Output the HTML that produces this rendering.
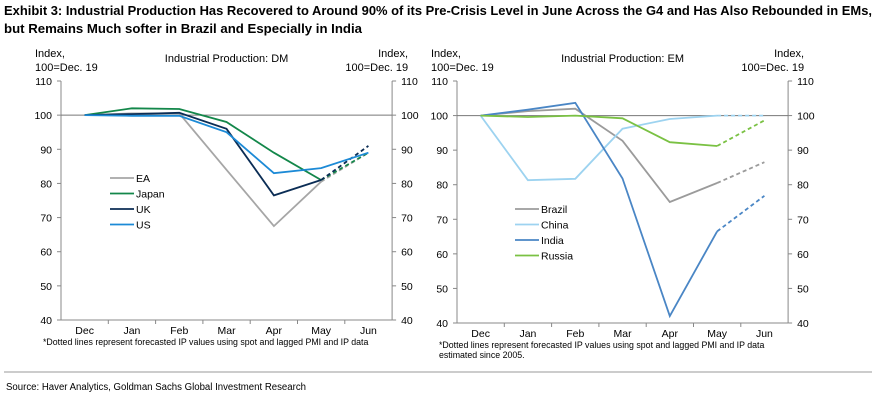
<!DOCTYPE html>
<html><head><meta charset="utf-8"><style>
body{margin:0;background:#fff;width:890px;height:404px;overflow:hidden;font-family:"Liberation Sans",Arial,sans-serif}
svg{display:block}
text{font-family:"Liberation Sans",Arial,sans-serif;fill:#000}
</style></head><body>
<svg id="svg" width="890" height="404">
<text x="4" y="15" font-size="13" font-weight="bold" textLength="868" lengthAdjust="spacingAndGlyphs">Exhibit 3: Industrial Production Has Recovered to Around 90% of its Pre-Crisis Level in June Across the G4 and Has Also Rebounded in EMs,</text>
<text x="4" y="33" font-size="13" font-weight="bold" textLength="358" lengthAdjust="spacingAndGlyphs">but Remains Much softer in Brazil and Especially in India</text>
<line x1="4" y1="372" x2="872" y2="372" stroke="#999" stroke-width="1"/>
<text x="6" y="390" font-size="10" textLength="300" lengthAdjust="spacingAndGlyphs">Source: Haver Analytics, Goldman Sachs Global Investment Research</text>
<g id="charts"></g>
</svg>
<script>
const categories=["Dec","Jan","Feb","Mar","Apr","May","Jun"];
const yTicks=[40,50,60,70,80,90,100,110];
const dmNames=["EA","Japan","UK","US"];
const dmEA=[100,100.5,100.5,84,67.5,80.5,89];
const dmJapan=[100,102,101.8,98,89,81,89];
const dmUK=[100,100.3,100.7,96,76.5,81,91];
const dmUS=[100,99.8,99.8,95,83,84.5,89];
const emNames=["Brazil","China","India","Russia"];
const emBrazil=[100,101.3,102,92.7,75,80.5,86.5];
const emChina=[100,81.3,81.7,96.2,99,100,100];
const emIndia=[100,101.7,103.7,81.8,42,66.5,76.8];
const emRussia=[100,99.6,100,99.2,92.3,91.2,98.6];
const dmColors=["#a6a6a6","#13874a","#0b2d55","#1c8ad6"];
const emColors=["#9b9b9b","#9dd3f0","#4a86c5","#7ac143"];
const NS="http://www.w3.org/2000/svg";
const root=document.getElementById('charts');
function mk(tag,attrs,parent,txt){const e=document.createElementNS(NS,tag);for(const k in attrs)e.setAttribute(k,attrs[k]);if(txt!==undefined)e.textContent=txt;(parent||root).appendChild(e);return e;}
function chart(cfg){
  const g=mk('g',{});
  
  
  const L=cfg.left,R=cfg.left+7*47.3,T=81,B=cfg.bottom;
  const y=v=>T+(110-v)/70*(B-T);
  const x=i=>L+23.65+i*47.3;
  const t=mk('text',{x:(L+R)/2,y:62,'font-size':11,'text-anchor':'middle'},g,cfg.title);
  
  
  [[L-26,'start'],[R+16,'end']].forEach((p,k)=>{
    const a=mk('text',{x:p[0],y:57,'font-size':11,'text-anchor':p[1]},g,'Index,');
    
    
    const b=mk('text',{x:p[0],y:71,'font-size':11,'text-anchor':p[1]},g,'100=Dec. 19');
    
    
  });
  mk('line',{x1:L,y1:T,x2:L,y2:B,stroke:'#888'},g);
  mk('line',{x1:R,y1:T,x2:R,y2:B,stroke:'#888'},g);
  mk('line',{x1:L,y1:B,x2:R,y2:B,stroke:'#888'},g);
  yTicks.forEach(v=>{
    mk('line',{x1:L-4,y1:y(v),x2:L,y2:y(v),stroke:'#888'},g);
    mk('line',{x1:R,y1:y(v),x2:R+4,y2:y(v),stroke:'#888'},g);
    const a=mk('text',{x:L-9,y:y(v)+4,'font-size':10.5,'text-anchor':'end'},g,v);
    
    
    const b=mk('text',{x:R+9,y:y(v)+4,'font-size':10.5},g,v);
    
    
  });
  mk('line',{x1:L,y1:y(100),x2:R,y2:y(100),stroke:'#777'},g);
  categories.forEach((c,i)=>{
    if(i>0)mk('line',{x1:L+i*47.3,y1:B,x2:L+i*47.3,y2:B+4,stroke:'#888'},g);
    const a=mk('text',{x:x(i),y:B+14,'font-size':10.5,'text-anchor':'middle'},g,c);
    
    
  });
  cfg.series.forEach((s,k)=>{
    const solidN=cfg.solidCount[k];
    const pts=s.map((v,i)=>x(i).toFixed(1)+','+y(v).toFixed(1));
    const p=mk('polyline',{points:pts.slice(0,solidN).join(' '),fill:'none',stroke:cfg.colors[k],'stroke-width':1.8},g);
    
    
    if(solidN<s.length){
      const d=mk('polyline',{points:pts.slice(solidN-1).join(' '),fill:'none',stroke:cfg.colors[k],'stroke-width':1.8,'stroke-dasharray':'4,3'},g);
      
      
    }
    const ly=cfg.legY+k*15.5;
    mk('line',{x1:cfg.legX,y1:ly,x2:cfg.legX+24,y2:ly,stroke:cfg.colors[k],'stroke-width':1.8},g);
    const lt=mk('text',{x:cfg.legX+26,y:ly+4,'font-size':10.5},g,cfg.names[k]);
    
    
  });
  cfg.notes.forEach((n,i)=>{
    const a=mk('text',{x:L-18,y:B+25+i*10,'font-size':8.8},g,n);
    
    
  });
}
chart({id:'dm',title:'Industrial Production: DM',left:61,bottom:320,series:[dmEA,dmJapan,dmUK,dmUS],names:dmNames,colors:dmColors,solidCount:[6,6,6,7],legX:110,legY:178,notes:['*Dotted lines represent forecasted IP values using spot and lagged PMI and IP data']});
chart({id:'em',title:'Industrial Production: EM',left:457,bottom:323,series:[emBrazil,emChina,emIndia,emRussia],names:emNames,colors:emColors,solidCount:[6,6,6,6],legX:515,legY:209,notes:['*Dotted lines represent forecasted IP values using spot and lagged PMI and IP data','estimated since 2005.']});
</script>
</body></html>
